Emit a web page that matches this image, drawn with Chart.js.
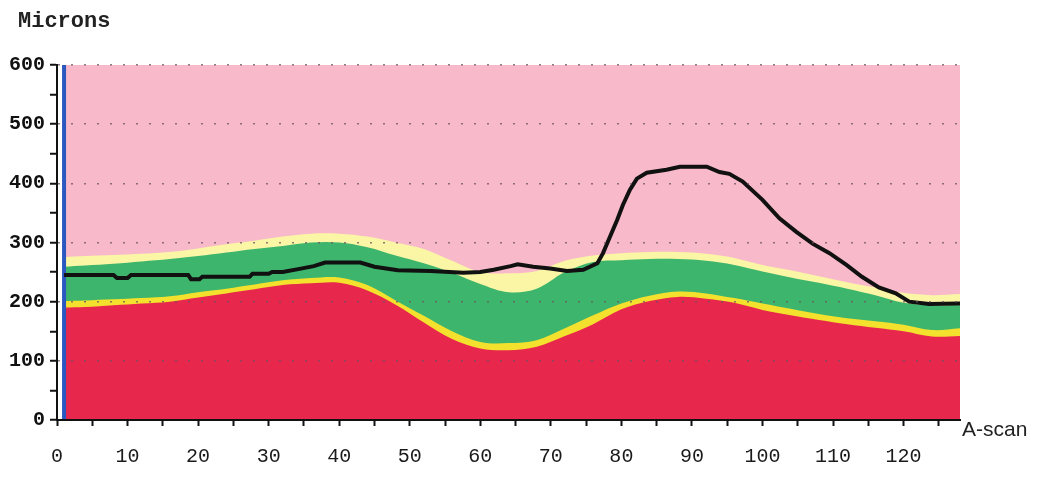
<!DOCTYPE html>
<html><head><meta charset="utf-8">
<script src="https://cdn.jsdelivr.net/npm/chart.js@4.4.1/dist/chart.umd.min.js"></script>
<style>html,body{margin:0;padding:0;background:#fff}#wrap{width:1038px;height:484px;position:relative}</style>
</head><body><div id="wrap"><canvas id="c" width="1038" height="484"></canvas></div>
<script>
// A-scan positions for the layer boundaries
const scans = [1,4,8,12,16,20,24,28,32,36,40,44,48,52,56,60,64,68,72,76,80,84,88,92,96,100,104,108,112,116,120,124,128];
// top of the red layer (microns)
const redTop = [190,191,194,197,200,207,214,221,228,231,232,219,195,165,137,121,118,124,142,162,187,201,208,205,198,186,177,169,162,156,150,141,142];
// top of the thin yellow layer
const yellowTop = [201,202,204,206,209,216,222,229,236,240,241,228,202,176,150,132,130,135,155,177,197,210,217,214,206,197,188,179,172,167,161,152,155];
// top of the green layer
const greenTop = [259,261,264,268,272,277,283,289,294,300,300,292,278,265,249,230,216,222,250,267,270,272,272,269,262,251,241,232,222,211,198,194,194];
// top of the pale yellow layer
const paleTop = [275,277,279,281,284,290,297,303,310,315,315,310,300,289,269,250,248,252,269,278,282,284,284,281,274,262,253,243,233,224,215,211,213];
// black thickness trace
const blackScans = [1,8,8.5,10,10.5,18.6,19,20.2,20.6,27.3,27.7,30,30.5,32,34.2,36.4,38,43,45,48.3,53,57.6,60,61.9,64.3,65.3,67.5,69.9,72.3,74.6,76.6,77.4,78.4,79.4,80.2,81.2,82.2,83.6,86.4,88.3,92.1,93.9,95.3,97.2,100,102.4,104.8,107.1,109.5,111.9,114.1,116.5,118.9,120.8,123.6,128];
const blackValues = [245,245,240,240,245,245,238,238,242,242,247,247,250,250,255,260,266,266,259,253,252,249,250,254,260,263,259,256,252,254,265,282,310,338,363,389,408,418,423,428,428,419,416,403,372,341,318,298,282,262,242,224,214,200,196,197];
// blue marker at the first A-scan
const markerScans = [1,1];
const markerValues = [0,600];
// tick labels
const xTickLabels = [0,10,20,30,40,50,60,70,80,90,100,110,120];
const yTickLabels = [0,100,200,300,400,500,600];

const pts = (xs, ys) => xs.map((x, i) => ({x: x, y: ys[i]}));

const bgPlugin = {
  id: 'bg',
  beforeDatasetsDraw(chart) {
    const {ctx, chartArea, scales} = chart;
    const x0 = scales.x.getPixelForValue(scans[0]);
    ctx.save();
    ctx.fillStyle = '#F8BACA';
    ctx.fillRect(x0, chartArea.top, chartArea.right - x0, chartArea.bottom - chartArea.top);
    ctx.restore();
  }
};
const textPlugin = {
  id: 'txt',
  afterDraw(chart) {
    const ctx = chart.ctx;
    ctx.save();
    ctx.fillStyle = '#222';
    ctx.textBaseline = 'middle';
    ctx.textAlign = 'left';
    ctx.font = 'bold 22px "Liberation Mono"';
    ctx.fillText('Microns', 18, 21);
    ctx.font = '21px "Liberation Sans"';
    ctx.fillText('A-scan', 962, 430);
    ctx.restore();
  }
};

const area = (data, color, order) => ({
  data: data, backgroundColor: color, borderWidth: 0, pointRadius: 0,
  fill: 'origin', tension: 0.35, order: order
});

new Chart(document.getElementById('c'), {
  type: 'line',
  data: {
    datasets: [
      {data: pts(blackScans, blackValues), borderColor: '#111', borderWidth: 4, pointRadius: 0, fill: false, tension: 0, order: 0},
      {data: pts(markerScans, markerValues), borderColor: '#2A58C0', borderWidth: 4, pointRadius: 0, fill: false, order: 0},
      area(pts(scans, redTop), '#E8274C', 1),
      area(pts(scans, yellowTop), '#F4E12E', 2),
      area(pts(scans, greenTop), '#3EB56C', 3),
      area(pts(scans, paleTop), '#FAF6A6', 4)
    ]
  },
  options: {
    responsive: false, animation: false,
    layout: {padding: {top: 65, right: 78, left: 0, bottom: 0}},
    plugins: {legend: {display: false}, tooltip: {enabled: false}},
    scales: {
      x: {
        type: 'linear', min: 0, max: 128,
        afterFit: s => { s.height = 64; },
        ticks: {stepSize: 5, includeBounds: false, autoSkip: false, maxRotation: 0, padding: 19, color: '#1a1a1a', z: 1,
          font: {family: 'Liberation Mono', size: 20},
          callback: v => xTickLabels.includes(v) ? String(v) : ''},
        grid: {drawOnChartArea: false, drawTicks: true, tickLength: 6, tickColor: '#111', tickWidth: 2, z: 1},
        border: {display: true, color: '#111', width: 2, z: 1}
      },
      y: {
        min: 0, max: 600,
        afterFit: s => { s.width = 57; },
        ticks: {stepSize: 50, padding: 5, color: '#111', z: 1,
          font: {family: 'Liberation Mono', size: 20, weight: 'bold'},
          callback: v => yTickLabels.includes(v) ? String(v) : ''},
        grid: {z: 1, lineWidth: 1.5, tickLength: 7, tickColor: '#111', tickWidth: 2,
          color: c => (c.tick && c.tick.value % 100 === 0 && c.tick.value > 0) ? 'rgba(105,80,95,0.75)' : 'rgba(0,0,0,0)'},
        border: {display: true, color: '#111', width: 2, dash: [2, 11], z: 1}
      }
    }
  },
  plugins: [bgPlugin, textPlugin]
});
</script></body></html>
